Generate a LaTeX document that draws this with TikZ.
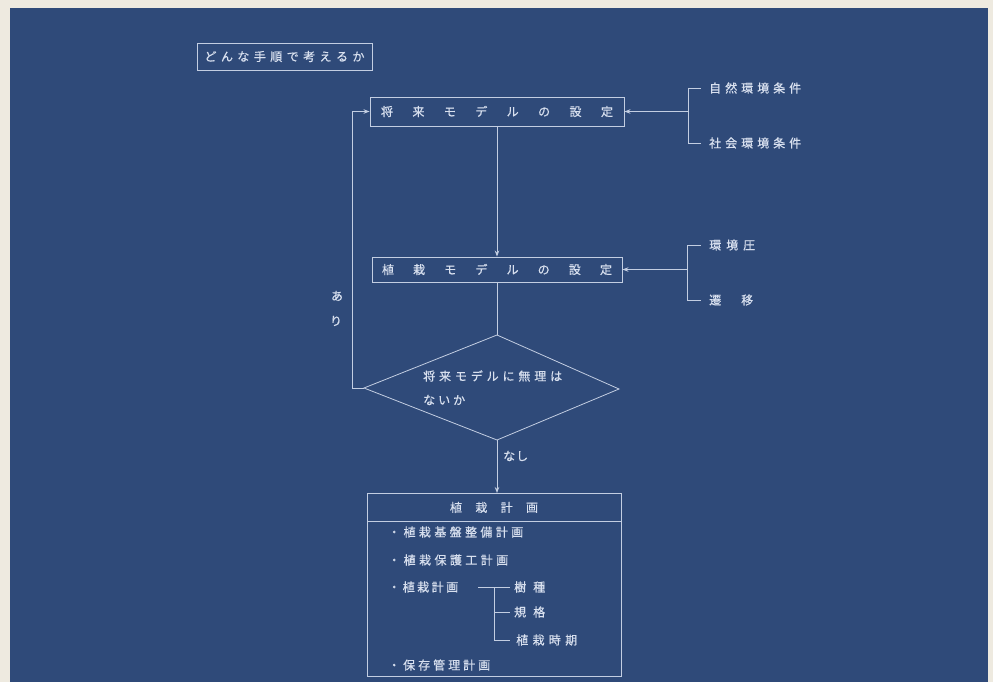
\documentclass[tikz,border=0pt]{standalone}
\usepackage{fontspec}
\newfontfamily\jp{Noto Sans CJK JP}[FakeBold=0.6]
\usetikzlibrary{arrows.meta}
\definecolor{bp}{HTML}{2F4A79}
\definecolor{lnc}{HTML}{C3CEE2}
\definecolor{txc}{HTML}{D8E0EF}
\definecolor{cream}{HTML}{EEEAE0}
\newcommand\spr[2]{\makebox[#1][s]{#2}}
\begin{document}
\begin{tikzpicture}[x=1pt,y=-1pt,
  txt/.style={text=txc,font=\jp\fontsize{12}{14}\selectfont,inner sep=0pt},
  box/.style={draw=lnc,line width=0.9pt,inner sep=0pt},
  lnk/.style={draw=lnc,line width=0.8pt},
  arr/.style={lnk,-{Stealth[length=6pt,width=4.5pt]}}]
\useasboundingbox (0,0) rectangle (993,682);
\fill[cream] (0,0) rectangle (993,682);
\fill[bp] (10,8) rectangle (988,682);

% title
\node[box,txt,minimum width=175pt,minimum height=27pt] (title) at (284.5,56.5)
  {\spr{160pt}{ど\hfill ん\hfill な\hfill 手\hfill 順\hfill で\hfill 考\hfill え\hfill る\hfill か}};

% boxes
\node[box,txt,minimum width=254pt,minimum height=29pt] (box1) at (497,111.5)
  {\spr{232pt}{将\hfill 来\hfill モ\hfill デ\hfill ル\hfill の\hfill 設\hfill 定}};
\node[box,txt,minimum width=250pt,minimum height=25pt] (box2) at (497,269.5)
  {\spr{230pt}{植\hfill 栽\hfill モ\hfill デ\hfill ル\hfill の\hfill 設\hfill 定}};

% right labels 1
\node[txt,anchor=west] (n1) at (709,88) {\spr{92pt}{自\hfill 然\hfill 環\hfill 境\hfill 条\hfill 件}};
\node[txt,anchor=west] (n2) at (709,143) {\spr{92pt}{社\hfill 会\hfill 環\hfill 境\hfill 条\hfill 件}};
\coordinate (r1) at (688,111.5);
\coordinate (r1t) at (688,88);
\coordinate (r1b) at (688,143);
\draw[lnk] (r1t) -- (r1b);
\draw[lnk] (r1t) -- ([xshift=-8pt]n1.west);
\draw[lnk] (r1b) -- ([xshift=-8pt]n2.west);
\draw[arr] (r1) -- (box1.east);

% right labels 2
\node[txt,anchor=west] (e1) at (709,245) {\spr{46pt}{環\hfill 境\hfill 圧}};
\node[txt,anchor=west] (e2) at (709,300) {\spr{44pt}{遷\hfill 移}};
\coordinate (r2) at (687,269.5);
\coordinate (r2t) at (687,245);
\coordinate (r2b) at (687,300);
\draw[lnk] (r2t) -- (r2b);
\draw[lnk] (r2t) -- ([xshift=-8pt]e1.west);
\draw[lnk] (r2b) -- ([xshift=-8pt]e2.west);
\draw[arr] (r2) -- (box2.east);

% trunk
\draw[arr] (box1.south) -- (box2.north);

% diamond
\coordinate (dt) at (497,335);
\coordinate (dr) at (619,389);
\coordinate (db) at (497,440);
\coordinate (dl) at (364,388);
\draw[lnk] (dt) -- (dr) -- (db) -- (dl) -- cycle;
\draw[lnk] (box2.south) -- (dt);
\node[txt,anchor=west] (q1) at (423,376) {\spr{139pt}{将\hfill 来\hfill モ\hfill デ\hfill ル\hfill に\hfill 無\hfill 理\hfill は}};
\node[txt,anchor=west] (q2) at (423,400) {\spr{42pt}{な\hfill い\hfill か}};

% feedback
\coordinate (fb) at (352,388);
\draw[arr] (dl) -- (fb) |- (box1.west);
\node[txt] (a1) at (337,296) {あ};
\node[txt] (a2) at (336,321) {り};

% nashi
\node[txt,anchor=west] (ns) at (503,456) {\spr{25pt}{な\hfill し}};

% plan box
\node[box,minimum width=254pt,minimum height=183pt,anchor=north] (box3) at (494,493) {};
\node[box,txt,minimum width=254pt,minimum height=28pt,anchor=north] (hdr) at (box3.north)
  {\spr{88pt}{植\hfill 栽\hfill 計\hfill 画}};
\draw[arr] (db) -- (db |- box3.north);

\node[txt,anchor=west] (p1) at (388,532) {\spr{135pt}{・\hfill 植\hfill 栽\hfill 基\hfill 盤\hfill 整\hfill 備\hfill 計\hfill 画}};
\node[txt,anchor=west] (p2) at (388,560) {\spr{120pt}{・\hfill 植\hfill 栽\hfill 保\hfill 護\hfill 工\hfill 計\hfill 画}};
\node[txt,anchor=west] (p3) at (388,587) {\spr{70pt}{・\hfill 植\hfill 栽\hfill 計\hfill 画}};
\node[txt,anchor=west] (p4) at (388,665) {\spr{102pt}{・\hfill 保\hfill 存\hfill 管\hfill 理\hfill 計\hfill 画}};

\node[txt,anchor=west] (s1) at (514,587) {\spr{31pt}{樹\hfill 種}};
\node[txt,anchor=west] (s2) at (514,612) {\spr{31pt}{規\hfill 格}};
\node[txt,anchor=west] (s3) at (516,640) {\spr{61pt}{植\hfill 栽\hfill 時\hfill 期}};
\coordinate (h0) at (478,587);
\coordinate (vt) at (494,587);
\coordinate (vb) at (494,640);
\draw[lnk] (h0) -- ([xshift=-4pt]s1.west);
\draw[lnk] (vt) -- (vb);
\draw[lnk] (vt |- s2.west) -- ([xshift=-4pt]s2.west);
\draw[lnk] (vb) -- ([xshift=-6pt]s3.west);
\end{tikzpicture}
\end{document}
